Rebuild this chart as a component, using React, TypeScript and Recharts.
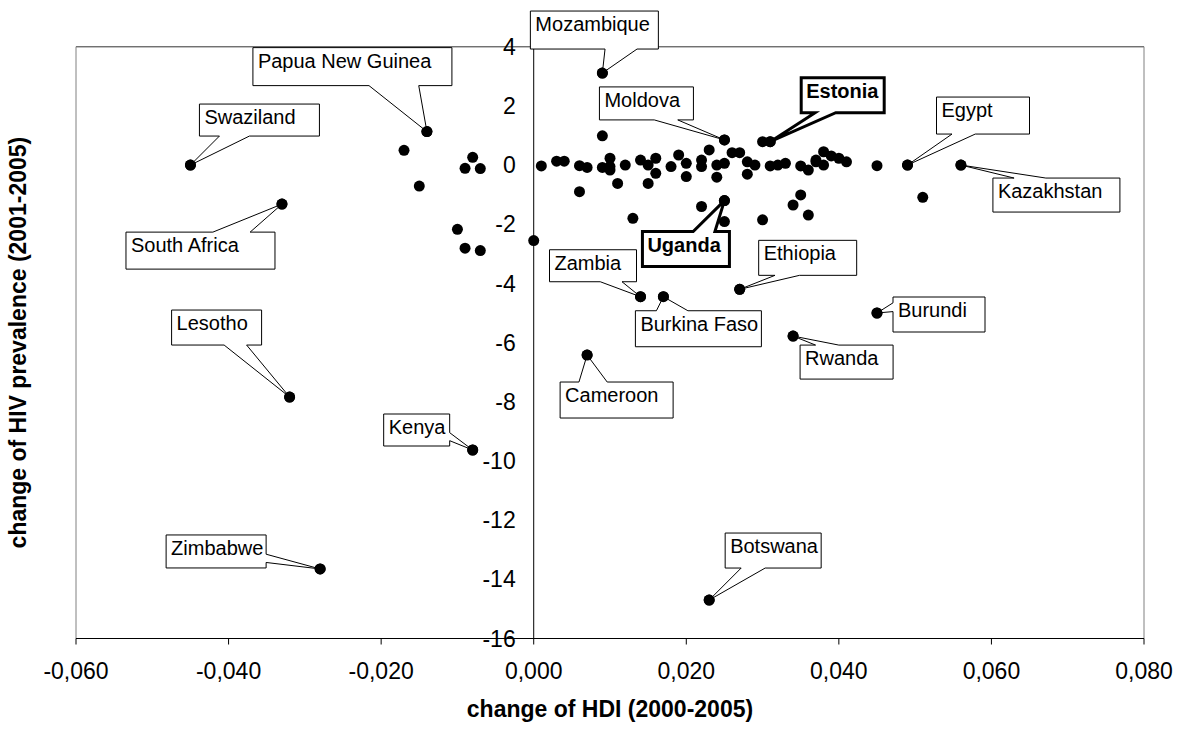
import React from "react"
import {
	CartesianGrid,
	ReferenceDot,
	ReferenceLine,
	Scatter,
	ScatterChart,
	XAxis,
	YAxis,
} from "recharts"

const FONT = '"Liberation Sans", Arial, sans-serif'

// unlabelled countries
const hdiChange = [
	-0.017, -0.015, -0.009, -0.008, -0.007, -0.01, -0.009, -0.007, 0.0,
	0.001, 0.003, 0.004, 0.006, 0.007, 0.009, 0.006, 0.009, 0.01, 0.01, 0.011, 0.01, 0.012, 0.014,
	0.013, 0.015, 0.015, 0.016, 0.016, 0.018, 0.019, 0.02, 0.02, 0.022, 0.022, 0.022, 0.023, 0.024,
	0.024, 0.025, 0.025, 0.026, 0.027, 0.028, 0.028, 0.029, 0.03, 0.03, 0.031, 0.032, 0.033, 0.034,
	0.035, 0.035, 0.036, 0.036, 0.037, 0.037, 0.038, 0.038, 0.039, 0.04, 0.041, 0.045, 0.051,
]
const hivChange = [
	0.5, -0.71, -0.11, 0.26, -0.12, -2.17, -2.81, -2.89, -2.55,
	-0.03, 0.13, 0.13, -0.02, -0.08, 0.99, -0.9, -0.08, 0.23, -0.17, -0.62, -0.05, 0.0, 0.17,
	-1.8, 0.0, -0.62, 0.23, -0.28, -0.05, 0.34, 0.06, -0.39, 0.17, -0.05, -1.4, 0.51, 0.0,
	-0.41, 0.06, -1.91, 0.42, 0.42, 0.11, -0.31, 0.0, 0.79, -1.85, -0.03, 0.0, 0.06, -1.35,
	-0.03, -1.01, -0.17, -1.69, 0.11, 0.17, 0.45, 0.0, 0.31, 0.23, 0.11, -0.02, -1.09,
]

// labelled countries
const countries = [
	"Mozambique", "Papua New Guinea", "Swaziland", "South Africa", "Moldova", "Estonia",
	"Egypt", "Kazakhstan", "Uganda", "Zambia", "Ethiopia", "Burkina Faso", "Burundi",
	"Rwanda", "Cameroon", "Lesotho", "Kenya", "Zimbabwe", "Botswana",
]
const countryHdi = [
	0.009, -0.014, -0.045, -0.033, 0.025, 0.031, 0.049, 0.056, 0.025, 0.014, 0.027, 0.017, 0.045,
	0.034, 0.007, -0.032, -0.008, -0.028, 0.023,
]
const countryHiv = [
	3.11, 1.13, 0.0, -1.32, 0.85, 0.79, 0.0, 0.0, -1.2, -4.45, -4.2, -4.45, -5.0, -5.78, -6.42,
	-7.84, -9.63, -13.65, -14.7,
]

const xTicks = [-0.06, -0.04, -0.02, 0, 0.02, 0.04, 0.06, 0.08]
const yTicks = [4, 2, 0, -2, -4, -6, -8, -10, -12, -14, -16]

// callout boxes, offset from the point in px
const callouts: Record<string, { dx: number; dy: number; w: number; h: number; bold?: boolean }> = {
	Mozambique: { dx: -72, dy: -62, w: 128, h: 38 },
	"Papua New Guinea": { dx: -174, dy: -84, w: 199, h: 38 },
	Swaziland: { dx: 9, dy: -61, w: 120, h: 32 },
	"South Africa": { dx: -156, dy: 28, w: 149, h: 37 },
	Moldova: { dx: -125, dy: -53, w: 94, h: 33 },
	Estonia: { dx: 31, dy: -64, w: 83, h: 35, bold: true },
	Egypt: { dx: 29, dy: -68, w: 93, h: 37 },
	Kazakhstan: { dx: 32, dy: 13, w: 127, h: 34 },
	Uganda: { dx: -82, dy: 31, w: 87, h: 35, bold: true },
	Zambia: { dx: -91, dy: -47, w: 87, h: 32 },
	Ethiopia: { dx: 19, dy: -49, w: 98, h: 35 },
	"Burkina Faso": { dx: -28, dy: 14, w: 126, h: 36 },
	Burundi: { dx: 16, dy: -16, w: 92, h: 35 },
	Rwanda: { dx: 7, dy: 9, w: 93, h: 34 },
	Cameroon: { dx: -27, dy: 27, w: 113, h: 36 },
	Lesotho: { dx: -118, dy: -87, w: 90, h: 35 },
	Kenya: { dx: -89, dy: -36, w: 66, h: 32 },
	Zimbabwe: { dx: -154, dy: -34, w: 100, h: 33 },
	Botswana: { dx: 16, dy: -67, w: 96, h: 35 },
}

const allPoints = [
	...hdiChange.map((x, i) => ({ x, y: hivChange[i] })),
	...countries.map((name, i) => ({ x: countryHdi[i], y: countryHiv[i] })),
]
const labelled = countries.map((name, i) => ({ name, x: countryHdi[i], y: countryHiv[i] }))

const fmtHdi = (v: number) => v.toFixed(3).replace(".", ",")

// rectangular callout with a wedge pointing at (tx, ty), old Excel style
function calloutPath(tx: number, ty: number, bx: number, by: number, w: number, h: number) {
	const dxn = (tx - (bx + w / 2)) / w
	const dyn = (ty - (by + h / 2)) / h
	let pts: number[][]
	if (Math.abs(dyn) >= Math.abs(dxn)) {
		const a = dxn < 0 ? bx + w / 6 : bx + (7 * w) / 12
		const b = dxn < 0 ? bx + (5 * w) / 12 : bx + (5 * w) / 6
		if (dyn < 0) {
			pts = [[bx, by], [a, by], [tx, ty], [b, by], [bx + w, by], [bx + w, by + h], [bx, by + h]]
		} else {
			pts = [[bx, by], [bx + w, by], [bx + w, by + h], [b, by + h], [tx, ty], [a, by + h], [bx, by + h]]
		}
	} else {
		const a = dyn < 0 ? by + h / 6 : by + (7 * h) / 12
		const b = dyn < 0 ? by + (5 * h) / 12 : by + (5 * h) / 6
		if (dxn < 0) {
			pts = [[bx, by], [bx + w, by], [bx + w, by + h], [bx, by + h], [bx, b], [tx, ty], [bx, a]]
		} else {
			pts = [[bx, by], [bx + w, by], [bx + w, a], [tx, ty], [bx + w, b], [bx + w, by + h], [bx, by + h]]
		}
	}
	return "M" + pts.map((p) => p.join(",")).join("L") + "Z"
}

const Dot = (props: any) => <circle cx={props.cx} cy={props.cy} r={5.5} fill="#000" />

const Callout = (props: any) => {
	const { cx, cy, payload } = props
	const c = callouts[payload.name]
	if (!c || cx == null) return <g />
	const bx = cx + c.dx
	const by = cy + c.dy
	return (
		<g>
			<path
				d={calloutPath(cx, cy, bx, by, c.w, c.h)}
				fill="#fff"
				stroke="#000"
				strokeWidth={c.bold ? 3 : 1}
				strokeLinejoin="miter"
			/>
			<text
				x={bx + 5}
				y={by + 20}
				fontSize={20}
				fontFamily={FONT}
				fontWeight={c.bold ? "bold" : "normal"}
				fill="#000"
			>
				{payload.name}
			</text>
			<circle cx={cx} cy={cy} r={5.5} fill="#000" />
		</g>
	)
}

const XTitle = (props: any) => {
	const vb = props.viewBox || { x: 76, y: 638.5, width: 1068, height: 90.5 }
	return (
		<text
			x={vb.x + vb.width / 2}
			y={vb.y + 78}
			textAnchor="middle"
			fontSize={23}
			fontWeight="bold"
			fontFamily={FONT}
			fill="#000"
		>
			change of HDI (2000-2005)
		</text>
	)
}

const YTitle = (props: any) => {
	const vb = props.viewBox || { x: 0, y: 46.7, width: 76, height: 591.8 }
	const x = vb.x + 26
	const y = vb.y + vb.height / 2
	return (
		<text
			x={x}
			y={y}
			transform={`rotate(-90 ${x} ${y})`}
			textAnchor="middle"
			fontSize={23}
			fontWeight="bold"
			fontFamily={FONT}
			fill="#000"
		>
			change of HIV prevalence (2001-2005)
		</text>
	)
}

export default function App() {
	return (
		<div style={{ position: "absolute", left: 0, top: 0, width: 1184, height: 729, background: "#fff" }}>
			<ScatterChart
				width={1184}
				height={729}
				margin={{ top: 46.7, right: 40, bottom: 0, left: 0 }}
				style={{ fontFamily: FONT }}
			>
				<CartesianGrid vertical={false} stroke="#000" />
				<XAxis
					type="number"
					dataKey="x"
					domain={[-0.06, 0.08]}
					ticks={xTicks}
					interval={0}
					tickFormatter={fmtHdi}
					height={90.5}
					tickSize={6}
					tickMargin={18}
					axisLine={{ stroke: "#000" }}
					tickLine={{ stroke: "#000" }}
					tick={{ fontSize: 23, fill: "#000", fontFamily: FONT }}
					label={{ content: XTitle }}
				/>
				<YAxis
					type="number"
					dataKey="y"
					domain={[-16, 4]}
					ticks={yTicks}
					width={76}
					tick={false}
					axisLine={false}
					tickLine={false}
					label={{ content: YTitle }}
				/>
				<ReferenceLine y={4} stroke="#808080" />
				<ReferenceLine x={-0.06} stroke="#808080" />
				<ReferenceLine x={0.08} stroke="#808080" />
				<ReferenceLine x={0} stroke="#000" />
				{yTicks.map((v) => (
					<ReferenceDot
						key={v}
						x={0}
						y={v}
						r={0.01}
						fill="none"
						stroke="none"
						label={{
							value: String(v),
							position: "left",
							offset: 18,
							fill: "#000",
							fontSize: 23,
							fontFamily: FONT,
						}}
					/>
				))}
				<Scatter data={allPoints} shape={Dot} isAnimationActive={false} />
				<Scatter data={labelled} shape={Callout} isAnimationActive={false} />
			</ScatterChart>
		</div>
	)
}
